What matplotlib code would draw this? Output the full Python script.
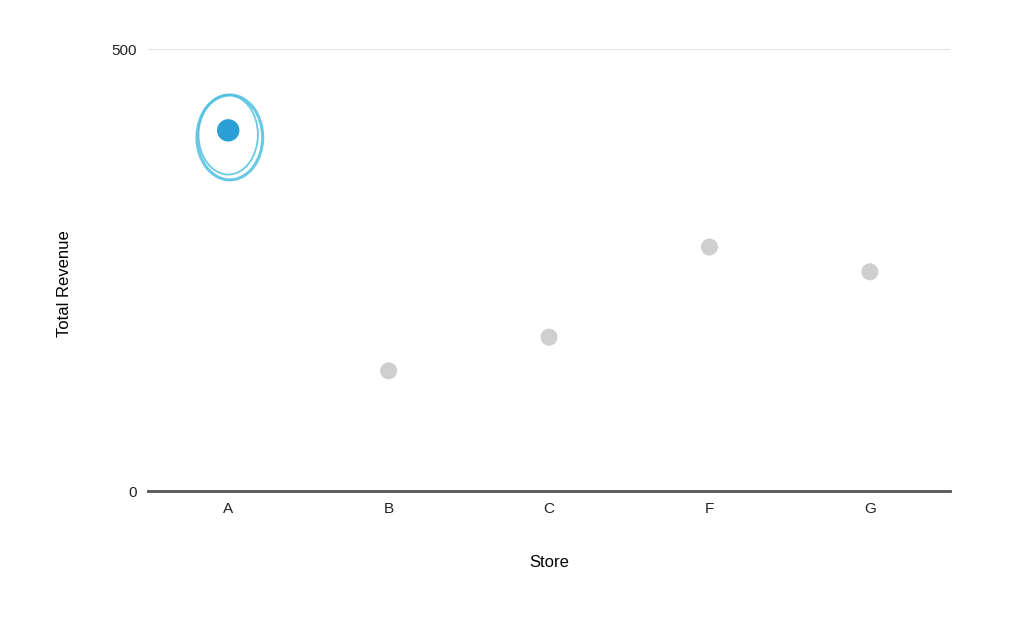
import matplotlib
matplotlib.use('Agg')
import matplotlib.pyplot as plt
from matplotlib.patches import Ellipse

# ── Data ────────────────────────────────────────────────────────────────
stores = ["A", "B", "C", "F", "G"]
revenue = [408, 136, 174, 276, 248]
highlight = "A"

plt.rcParams['font.family'] = ['Liberation Sans', 'DejaVu Sans']

fig = plt.figure(figsize=(10.11, 6.4), dpi=100)
ax = fig.add_axes([0.1464, 0.2328, 0.7933, 0.6906])

x = list(range(len(stores)))
colors = ["#2a9fd6" if s == highlight else "#cfcfcf" for s in stores]
sizes = [260 if s == highlight else 150 for s in stores]
ax.scatter(x, revenue, s=sizes, c=colors, edgecolors="none", zorder=3)

# hand-drawn style circle around the highlighted store
hi = stores.index(highlight)
for dx, dy, w, h, lw in [(0.01, -8, 0.41, 96, 2.2), (0.0, -5, 0.37, 90, 1.3)]:
    ax.add_patch(Ellipse((hi + dx, revenue[hi] + dy), w, h,
                         fill=False, edgecolor="#4fc0e0", linewidth=lw,
                         alpha=0.85, zorder=4))

ax.set_xlim(-0.5, len(stores) - 0.5)
ax.set_ylim(0, 500)
ax.set_xticks(x)
ax.set_xticklabels(stores, fontsize=11)
ax.set_yticks([0, 500])
ax.set_yticklabels(["0", "500"], fontsize=11)
ax.tick_params(axis="both", length=0, pad=8, colors="#222222")

ax.axhline(500, color="#dddddd", linewidth=1.2, zorder=1)
for side in ["top", "right", "left"]:
    ax.spines[side].set_visible(False)
ax.spines["bottom"].set_color("#555555")
ax.spines["bottom"].set_linewidth(2)

ax.set_xlabel("Store", fontsize=12, labelpad=28)
ax.set_ylabel("Total Revenue", fontsize=12)
ax.yaxis.set_label_coords(-0.095, 0.47)

fig.savefig("out.png", dpi=100)
